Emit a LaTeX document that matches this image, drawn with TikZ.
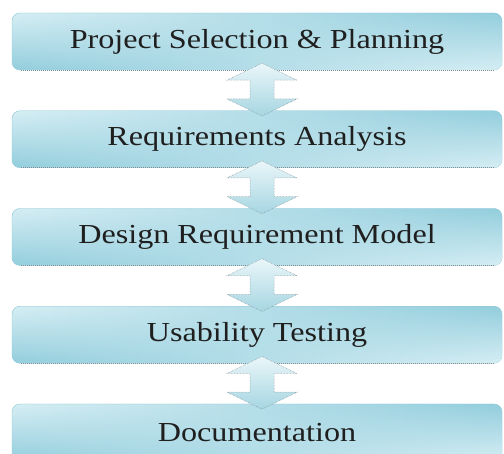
\documentclass[tikz,border=0pt]{standalone}
\usepackage{fontspec}
\setmainfont{Liberation Serif}[FakeStretch=1.17]
\usepackage{tikz}
\usetikzlibrary{calc,fadings,positioning}

\definecolor{boxlight}{HTML}{D6EEF4}
\definecolor{boxdark}{HTML}{93CEDD}
\definecolor{boxline}{HTML}{8CC6D4}
\definecolor{arrowlight}{HTML}{EAF6F9}
\definecolor{arrowdark}{HTML}{A6D6E2}
\definecolor{rimgray}{HTML}{7F8E93}

\begin{document}
\begin{tikzpicture}[node distance={97.75pt},
	stage/.style={rounded corners=8pt, minimum width=490pt, minimum height=57pt,
		draw=boxline, left color=boxlight, right color=boxdark,
		postaction={left color=boxdark, right color=boxlight, path fading=north},
		text=black!88, font=\fontsize{27.5}{30}\selectfont},
	link/.style={draw=rimgray, densely dotted, line width=0.5pt,
		top color=arrowlight, bottom color=arrowdark}]
	\useasboundingbox (0,0) rectangle (504pt,-454pt);

	\node[stage] (1) at (257pt,-41.5pt) {Project Selection \& Planning};
	\node[stage] (2) [below of=1] {Requirements Analysis};
	\node[stage] (3) [below of=2] {Design Requirement Model};
	\node[stage] (4) [below of=3] {Usability Testing};
	\node[stage] (5) [below of=4] {Documentation};

	% shadow rim under the boxes
	\foreach \n in {1,...,4}
		\draw[rimgray, densely dotted, line width=1pt] ($(\n.south west)+(9pt,0)$) -- ($(\n.south east)+(-9pt,0)$);

	% double block arrows
	\foreach \a/\b in {1/2,2/3,3/4,4/5}
		\draw[link] ($(\a.south)+(5pt,7pt)$) -- ++(35pt,-17pt) -- ++(-23pt,0) -- ++(0,-18.75pt)
			-- ++(23pt,0) -- ++(-35pt,-17pt) -- ++(-35pt,17pt) -- ++(23pt,0)
			-- ++(0,18.75pt) -- ++(-23pt,0) -- cycle;
\end{tikzpicture}
\end{document}
